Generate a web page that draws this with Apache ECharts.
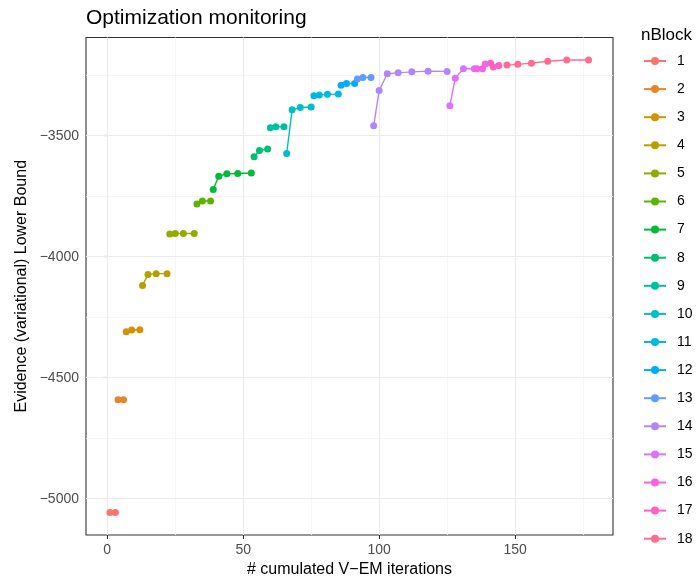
<!DOCTYPE html>
<html>
<head>
<meta charset="utf-8">
<script src="https://cdn.jsdelivr.net/npm/echarts@6/dist/echarts.min.js"></script>
<style>
html,body{margin:0;padding:0;background:#fff;}
#chart{width:697px;height:578px;}
</style>
</head>
<body>
<div id="chart"></div>
<script>
// ---- data ----
const blockNames = ['1','2','3','4','5','6','7','8','9','10','11','12','13','14','15','16','17','18'];
const blockColors = ['#F8766D','#E88526','#D39200','#B79F00','#93AA00','#5EB300','#00BA38','#00BF74','#00C19F','#00BFC4','#00B9E3','#00ADFA','#619CFF','#AE87FF','#DB72FB','#F564E3','#FF61C3','#FF6C91'];
const block1 = [[1,-5057],[3,-5057]];
const block2 = [[4,-4591],[6,-4591]];
const block3 = [[7,-4310],[9,-4303],[12,-4302]];
const block4 = [[13,-4119],[15,-4073],[18,-4070],[22,-4070]];
const block5 = [[23,-3906],[25,-3904],[28,-3904],[32,-3904]];
const block6 = [[33,-3782],[35,-3770],[38,-3770]];
const block7 = [[39,-3722],[41,-3667],[44,-3657],[48,-3656],[53,-3654]];
const block8 = [[54,-3587],[56,-3561],[59,-3555]];
const block9 = [[60,-3467],[62,-3463],[65,-3463]];
const block10 = [[66,-3573],[68,-3393],[71,-3383],[75,-3381]];
const block11 = [[76,-3335],[78,-3332],[81,-3329],[85,-3328]];
const block12 = [[86,-3291],[88,-3284],[91,-3284]];
const block13 = [[92,-3266],[94,-3259],[97,-3259]];
const block14 = [[98,-3459],[100,-3313],[103,-3244],[107,-3240],[112,-3236],[118,-3233],[125,-3234]];
const block15 = [[126,-3376],[128,-3262],[131,-3223],[135,-3223]];
const block16 = [[136,-3223],[138,-3223],[139,-3204]];
const block17 = [[141,-3200],[142,-3216],[144,-3210]];
const block18 = [[147,-3208],[151,-3205],[156,-3200],[162,-3192],[169,-3187],[177,-3187]];
const blocks = [block1,block2,block3,block4,block5,block6,block7,block8,block9,block10,block11,block12,block13,block14,block15,block16,block17,block18];

const xTicks = [0, 50, 100, 150];
const xMinor = [25, 75, 125, 175];
const yTicks = [-5000, -4500, -4000, -3500];
const yMinor = [-4750, -4250, -3750, -3250];
const xRange = [-7.8, 186.0];
const yRange = [-5150, -3094];

const chart = echarts.init(document.getElementById('chart'), null, {renderer: 'canvas'});
const FONT = '"Liberation Sans", Arial, Helvetica, sans-serif';

const gridSeries = {
  type: 'line', data: [], z: 1, silent: true,
  markLine: {
    z: 1,
    silent: true, symbol: 'none', label: {show: false}, animation: false,
    data: [
      ...xMinor.map(v => ({xAxis: v, lineStyle: {color: '#F2F2F2', width: 0.8, type: 'solid'}})),
      ...yMinor.map(v => ({yAxis: v, lineStyle: {color: '#F2F2F2', width: 0.8, type: 'solid'}})),
      ...xTicks.map(v => ({xAxis: v, lineStyle: {color: '#EBEBEB', width: 1.2, type: 'solid'}})),
      ...yTicks.map(v => ({yAxis: v, lineStyle: {color: '#EBEBEB', width: 1.2, type: 'solid'}}))
    ]
  }
};

const dataSeries = blocks.map((d, i) => ({
  name: blockNames[i],
  type: 'line',
  data: d,
  z: 10 + i,
  symbol: 'circle',
  symbolSize: 7,
  showSymbol: true,
  clip: false,
  itemStyle: {color: blockColors[i]},
  lineStyle: {color: blockColors[i], width: 1.4},
  emphasis: {disabled: true},
  animation: false
}));

const minus = v => String(v).replace('-', '\u2212');

chart.setOption({
  backgroundColor: '#ffffff',
  animation: false,
  title: [
    {text: 'Optimization monitoring', left: 81, top: 3,
     textStyle: {fontFamily: FONT, fontSize: 21, fontWeight: 'normal', color: '#000'}},
    {text: 'nBlock', left: 636, top: 22,
     textStyle: {fontFamily: FONT, fontSize: 17, fontWeight: 'normal', color: '#000'}}
  ],
  grid: {left: 86, top: 37.5, right: 84, bottom: 43, containLabel: false, outerBoundsMode: 'none',
         show: true, borderColor: '#333333', borderWidth: 1.1},
  legend: {
    orient: 'vertical', left: 643, top: 54, padding: 0,
    itemWidth: 22, itemHeight: 10, itemGap: 14.1,
    data: blockNames,
    textStyle: {fontFamily: FONT, fontSize: 14, color: '#000', padding: [0, 0, 0, 6]},
    selectedMode: false
  },
  xAxis: {
    type: 'value', min: xRange[0], max: xRange[1],
    name: '# cumulated V\u2212EM iterations', nameLocation: 'middle', nameGap: 27,
    nameMoveOverlap: false,
    nameTextStyle: {fontFamily: FONT, fontSize: 16, color: '#000'},
    axisLine: {show: false},
    axisTick: {show: true, customValues: xTicks, length: 4, lineStyle: {color: '#333333', width: 1.1}},
    axisLabel: {show: true, customValues: xTicks, margin: 8, fontFamily: FONT, fontSize: 14, color: '#4D4D4D',
                formatter: minus},
    splitLine: {show: false}, minorSplitLine: {show: false}
  },
  yAxis: {
    type: 'value', min: yRange[0], max: yRange[1],
    name: 'Evidence (variational) Lower Bound', nameLocation: 'middle', nameGap: 56,
    nameMoveOverlap: false,
    nameTextStyle: {fontFamily: FONT, fontSize: 16, color: '#000'},
    axisLine: {show: false},
    axisTick: {show: true, customValues: yTicks, length: 4, lineStyle: {color: '#333333', width: 1.1}},
    axisLabel: {show: true, customValues: yTicks, margin: 7, fontFamily: FONT, fontSize: 14, color: '#4D4D4D',
                formatter: minus},
    splitLine: {show: false}, minorSplitLine: {show: false}
  },
  series: [gridSeries, ...dataSeries]
});
</script>
</body>
</html>
